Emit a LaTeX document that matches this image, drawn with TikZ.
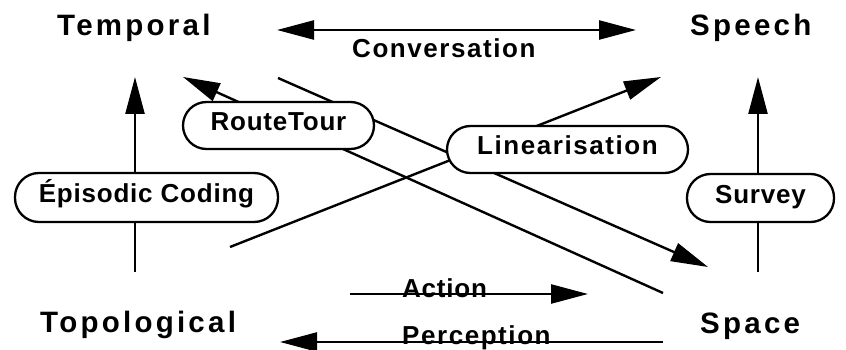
\documentclass[tikz,border=0pt]{standalone}
\usepackage{fontspec}
\setmainfont{Liberation Sans}
\newfontfamily\titlefont{Liberation Sans}[LetterSpace=11]
\newfontfamily\labelfont{Liberation Sans}[LetterSpace=6]
\newfontfamily\tightfont{Liberation Sans}[LetterSpace=3]
\usetikzlibrary{arrows.meta}
\tikzset{
  title/.style={font=\titlefont\bfseries\fontsize{29.5}{31}\selectfont, inner sep=0pt, anchor=base west},
  lbl/.style={font=\labelfont\bfseries\fontsize{26}{28}\selectfont, inner sep=0pt, anchor=base west},
  pill/.style={draw, line width=2.3pt, fill=white, rounded corners=23.5pt,
    font=\labelfont\bfseries\fontsize{26}{28}\selectfont,
    text height=19pt, text depth=9pt, inner sep=0pt},
  conn/.style={line width=2.4pt},
  arr/.style={conn, -{Triangle[length=37pt,width=19pt]}},
  dblarr/.style={conn, {Triangle[length=37pt,width=19pt]}-{Triangle[length=37pt,width=19pt]}},
}
\begin{document}
\begin{tikzpicture}[x=1pt,y=-1pt]
\useasboundingbox (0,0) rectangle (846,350);
% titles
\node[title] (temporal) at (57,36) {Temporal};
\node[title] (speech) at (690,36) {Speech};
\node[title] (topo) at (40,332) {Topological};
\node[title] (space) at (700,333) {Space};
% connector end points
\coordinate (convL) at (277,30);
\coordinate (convR) at (636,30);
\coordinate (tempTip) at (135,77);
\coordinate (epiTop) at (135,173);
\coordinate (epiBot) at (135,222);
\coordinate (topoTop) at (135,272);
\coordinate (speechTip) at (758,77);
\coordinate (survTop) at (758,174);
\coordinate (survBot) at (758,222);
\coordinate (spaceTop) at (758,272);
\coordinate (linStart) at (230,247);
\coordinate (linTip) at (661,77);
\coordinate (rtStart) at (663,293);
\coordinate (rtTip) at (183,77);
\coordinate (svStart) at (278,78);
\coordinate (svTip) at (708,267);
\coordinate (actStart) at (350,294);
\coordinate (actTip) at (588,294);
\coordinate (perStart) at (663,342);
\coordinate (perTip) at (280,342);
% connectors
\draw[dblarr] (convL) -- (convR);
\draw[arr] (epiTop) -- (tempTip);
\draw[conn] (epiBot) -- (topoTop);
\draw[arr] (survTop) -- (speechTip);
\draw[conn] (survBot) -- (spaceTop);
\draw[arr] (linStart) -- (linTip);
\draw[arr] (rtStart) -- (rtTip);
\draw[arr] (svStart) -- (svTip);
\draw[arr] (actStart) -- (actTip);
\draw[arr] (perStart) -- (perTip);
% boxes
\node[pill, minimum width=191pt, minimum height=47pt, font=\tightfont\bfseries\fontsize{26}{28}\selectfont] (routetour) at (278.5,125.5) {RouteTour};
\node[pill, minimum width=241pt, minimum height=47pt] (linear) at (567.5,149.5) {Linearisation};
\node[pill, minimum width=147pt, minimum height=48pt, font=\tightfont\bfseries\fontsize{26}{28}\selectfont] (survey) at (760.5,198) {Survey};
\node[pill, minimum width=263pt, minimum height=49pt, rounded corners=24pt, font=\tightfont\bfseries\fontsize{26}{28}\selectfont] (episodic) at (146.5,197.5) {Épisodic Coding};
% labels
\node[lbl] (conv) at (352,58) {Conversation};
\node[lbl, font=\tightfont\bfseries\fontsize{26}{28}\selectfont] (action) at (402,297) {Action};
\node[lbl] (perc) at (402,344) {Perception};
\end{tikzpicture}
\end{document}
